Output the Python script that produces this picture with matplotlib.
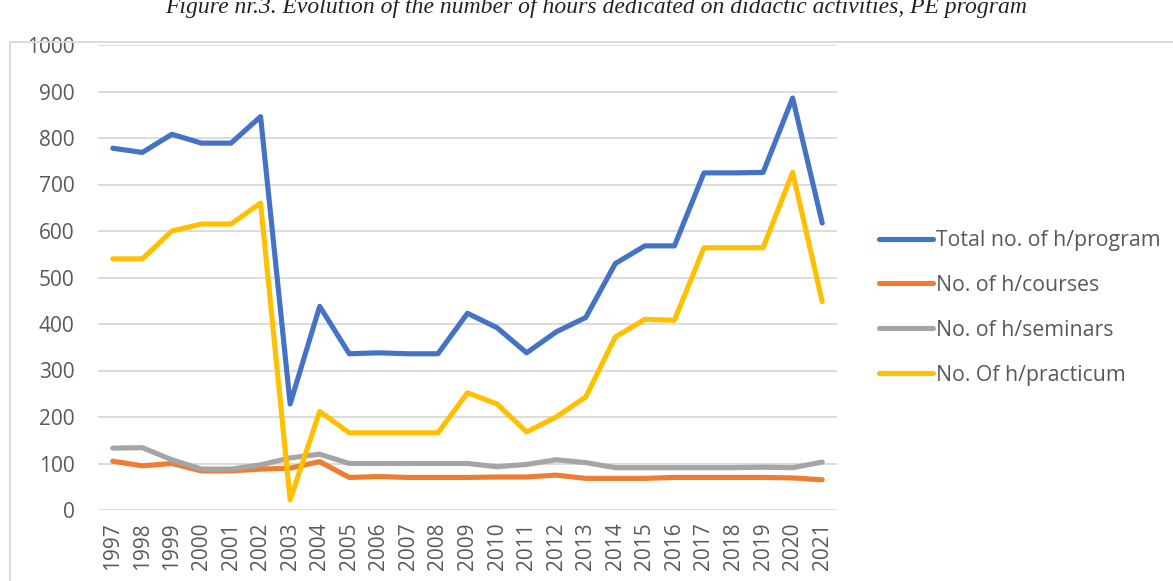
import matplotlib.pyplot as plt
from matplotlib.lines import Line2D

years = [str(y) for y in range(1997, 2022)]
total = [778, 769, 808, 789, 789, 846, 228, 438, 336, 338, 336, 336, 423,
         392, 338, 383, 414, 530, 568, 568, 725, 725, 726, 886, 617]
courses = [105, 95, 100, 84, 84, 88, 90, 104, 70, 72, 70, 70, 70,
           71, 71, 75, 68, 68, 68, 70, 70, 70, 70, 69, 65]
seminars = [133, 134, 108, 88, 88, 97, 112, 120, 100, 100, 100, 100, 100,
            93, 98, 108, 102, 91, 91, 91, 91, 91, 92, 91, 103]
practicum = [540, 540, 600, 615, 615, 660, 22, 212, 166, 166, 166, 166, 252,
             228, 168, 200, 243, 372, 410, 408, 564, 564, 564, 726, 448]

series = [
    ('Total no. of h/program', total, '#4472C4'),
    ('No. of h/courses', courses, '#ED7D31'),
    ('No. of h/seminars', seminars, '#A5A5A5'),
    ('No. Of h/practicum', practicum, '#FFC000'),
]

plt.rcParams['font.family'] = ['Open Sans', 'DejaVu Sans']

fig = plt.figure(figsize=(11.73, 5.81), dpi=100)
ax = fig.add_axes([98 / 1173, 1 - 510 / 581, (837 - 98) / 1173, (510 - 45) / 581])

x = list(range(len(years)))
for name, vals, col in series:
    ax.plot(x, vals, color=col, lw=3.7, label=name,
            solid_joinstyle='round', solid_capstyle='round')

ax.set_xlim(-0.5, len(years) - 0.5)
ax.set_ylim(0, 1000)
ax.set_yticks(range(0, 1001, 100))
ax.set_xticks(x)
ax.set_xticklabels(years, rotation=90)
ax.grid(axis='y', color='#D9D9D9', lw=1.3)
ax.set_axisbelow(True)
for s in ax.spines.values():
    s.set_visible(False)
ax.tick_params(length=0, labelsize=15, colors='#595959')
ax.tick_params(axis='y', pad=17)
ax.tick_params(axis='x', pad=9)

leg = fig.legend(loc='upper left', bbox_to_anchor=(860 / 1173, 1 - 211 / 581),
                 frameon=False, fontsize=15.3, handlelength=2.55,
                 handletextpad=0.12, labelspacing=1.12)
for t in leg.get_texts():
    t.set_color('#595959')

# outer chart border (cropped on right and bottom)
fig.add_artist(Line2D([10 / 1173, 10 / 1173], [0, 1 - 42 / 581],
                      color='#D9D9D9', lw=1.3))
fig.add_artist(Line2D([10 / 1173, 1], [1 - 42 / 581, 1 - 42 / 581],
                      color='#D9D9D9', lw=1.3))

fig.text(596 / 1173, 1 - 13 / 581,
         'Figure nr.3. Evolution of the number of hours dedicated on didactic activities, PE program',
         ha='center', va='baseline', fontsize=17, style='italic',
         family='Liberation Serif', color='#222222')

fig.savefig('out.png', dpi=100)
